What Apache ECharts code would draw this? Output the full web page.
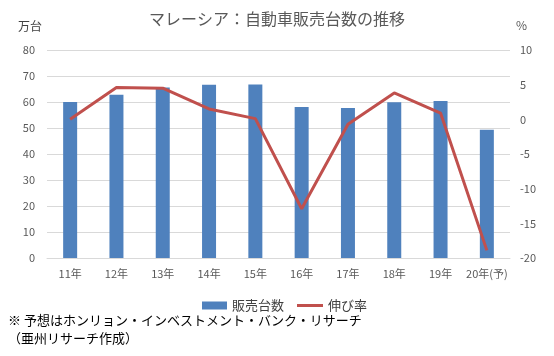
<!DOCTYPE html>
<html><head><meta charset="utf-8">
<script src="https://cdn.jsdelivr.net/npm/echarts@6/dist/echarts.min.js"></script>
<style>html,body{margin:0;padding:0;background:#fff}#c{width:554px;height:356px}</style>
</head><body><div id="c"></div>
<script>
const categories = ['11年','12年','13年','14年','15年','16年','17年','18年','19年','20年(予)'];
const sales = [60.0, 62.8, 65.6, 66.6, 66.7, 58.1, 57.7, 59.9, 60.4, 49.3];
const growth = [0.0, 4.6, 4.5, 1.5, 0.1, -12.9, -0.7, 3.8, 0.9, -18.9];
const leftTicks = [0, 10, 20, 30, 40, 50, 60, 70, 80];
const rightTicks = [-20, -15, -10, -5, 0, 5, 10];

const font = '"Noto Sans CJK JP", "Noto Sans", sans-serif';
const chart = echarts.init(document.getElementById('c'));
chart.setOption({
  animation: false,
  textStyle: { fontFamily: font },
  title: {
    text: 'マレーシア：自動車販売台数の推移',
    left: 'center', top: 6,
    textStyle: { fontSize: 16, fontWeight: 'normal', color: '#595959', fontFamily: font }
  },
  graphic: [
    { type: 'text', left: 18, top: 20, style: { text: '万台', fontSize: 12, fill: '#404040', fontFamily: font } },
    { type: 'text', left: 516, top: 19, style: { text: '%', fontSize: 12, fill: '#595959', fontFamily: font } },
    { type: 'text', left: 8, top: 314, style: { text: '※ 予想はホンリョン・インベストメント・バンク・リサーチ', fontSize: 13, fill: '#000', fontFamily: font } },
    { type: 'text', left: 8, top: 332, style: { text: '（亜州リサーチ作成）', fontSize: 13, fill: '#000', fontFamily: font } }
  ],
  legend: [
    {
      top: 294, left: 197, itemWidth: 25, itemHeight: 8,
      textStyle: { fontSize: 13, color: '#404040', fontFamily: font },
      data: [{ name: '販売台数', icon: 'rect' }]
    },
    {
      top: 294, left: 292, itemWidth: 26, itemHeight: 3,
      textStyle: { fontSize: 13, color: '#404040', fontFamily: font },
      data: [{ name: '伸び率', icon: 'rect', itemStyle: { color: '#C0504D' } }]
    }
  ],
  grid: { left: 47, right: 44, top: 50, bottom: 98 },
  xAxis: {
    type: 'category', data: categories,
    axisLine: { lineStyle: { color: '#D9D9D9' } },
    axisTick: { show: false },
    axisLabel: { color: '#595959', fontSize: 11, margin: 10, interval: 0 }
  },
  yAxis: [
    {
      type: 'value', min: 0, max: 80, interval: 10,
      axisLine: { show: false }, axisTick: { show: false },
      axisLabel: { color: '#595959', fontSize: 11, margin: 12 },
      splitLine: { lineStyle: { color: '#D9D9D9' } }
    },
    {
      type: 'value', min: -20, max: 10, interval: 5,
      axisLine: { show: false }, axisTick: { show: false },
      axisLabel: { color: '#595959', fontSize: 11, margin: 10 },
      splitLine: { show: false }
    }
  ],
  series: [
    {
      name: '販売台数', type: 'bar', data: sales, barWidth: 14, yAxisIndex: 0,
      itemStyle: { color: '#4F81BD' }
    },
    {
      name: '伸び率', type: 'line', data: growth, yAxisIndex: 1,
      symbol: 'none', lineStyle: { color: '#C0504D', width: 3 }, itemStyle: { color: '#C0504D' }
    }
  ]
});
</script></body></html>
